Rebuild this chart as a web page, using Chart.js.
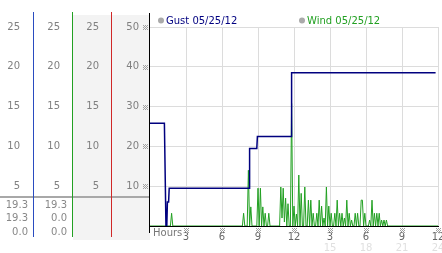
<!DOCTYPE html>
<html>
<head>
<meta charset="utf-8">
<script src="https://cdn.jsdelivr.net/npm/chart.js@4"></script>
<style>
  body { margin: 0; background: #fff; }
  #wrap { width: 442px; height: 253px; }
</style>
</head>
<body>
<div id="wrap"><canvas id="chart" width="442" height="253"></canvas></div>
<script>
// gust (blue scale, 0-25)
const gustHours = [0, 1.2, 1.33, 1.4, 1.45, 1.55, 1.6, 8.25, 8.3, 8.9, 8.95, 11.75, 11.8, 23.8];
const gustValues = [12.9, 12.9, 0, 0, 3.0, 3.0, 4.75, 4.75, 9.75, 9.75, 11.25, 11.25, 19.25, 19.25];

// wind (green scale, 0-25)
const windHours = [
  0, 1.7, 1.8, 1.9, 7.7, 7.8, 7.9, 8.1, 8.2, 8.3, 8.4, 8.5, 8.9, 9.0, 9.1, 9.2, 9.3, 9.4, 9.5, 9.6,
  9.7, 9.8, 9.9, 10.0, 10.8, 10.9, 11.0, 11.1, 11.2, 11.3, 11.4, 11.5, 11.6, 11.7, 11.8, 11.9, 12.0, 12.1, 12.2, 12.3,
  12.4, 12.5, 12.6, 12.7, 12.8, 12.9, 13.0, 13.1, 13.2, 13.3, 13.4, 13.5, 13.6, 13.7, 13.8, 13.9, 14.0, 14.1, 14.2, 14.3,
  14.4, 14.5, 14.6, 14.7, 14.8, 14.9, 15.0, 15.1, 15.2, 15.3, 15.4, 15.5, 15.6, 15.7, 15.8, 15.9, 16.0, 16.1, 16.2, 16.3,
  16.4, 16.5, 16.6, 16.7, 16.8, 16.9, 17.0, 17.1, 17.2, 17.3, 17.4, 17.5, 17.6, 17.7, 17.8, 17.9, 18.0, 18.2, 18.3, 18.4,
  18.5, 18.6, 18.7, 18.8, 18.9, 19.0, 19.1, 19.2, 19.3, 19.4, 19.5, 19.6, 19.7, 19.8, 24
];
const windValues = [
  0, 0, 1.6, 0, 0, 1.6, 0, 0, 7.0, 0, 2.4, 0, 0, 4.75, 0, 4.75, 0, 2.4, 0, 1.6,
  0, 0, 1.6, 0, 0, 4.9, 1.0, 4.75, 0.5, 3.5, 0, 2.8, 0, 0, 15.4, 0, 2.5, 0, 1.5, 0,
  6.4, 0, 4.1, 0, 0, 4.9, 0, 0, 3.25, 0, 3.25, 0, 1.6, 0, 0, 1.6, 0, 3.25, 0, 2.5,
  0, 1.0, 0, 4.9, 0, 2.5, 0, 1.6, 0, 0, 1.6, 0, 3.25, 0, 1.6, 0, 1.6, 0, 1.0, 0,
  3.25, 0, 1.6, 0, 0.75, 0, 0, 1.6, 0, 1.6, 0, 0, 3.25, 3.25, 0, 1.6, 0, 0, 0.75, 0,
  3.25, 0, 1.6, 0, 1.6, 0, 1.6, 0, 0.75, 0, 0.75, 0, 0.75, 0, 0
];

const hourTicks = [0, 3, 6, 9, 12, 15, 18, 21, 24];
const hourLabels = ['', '3', '6', '9', '12', '3', '6', '9', '12'];
const dayLabels = ['', '', '', '', '', '15', '18', '21', '24'];
const leftTicks = [0, 5, 10, 15, 20, 25];
const rightTicks = [0, 10, 20, 30, 40, 50];
const legendNames = ['Gust 05/25/12', 'Wind 05/25/12'];
const gustStats = ['19.3', '19.3', '0.0'];
const windStats = ['19.3', '0.0', '0.0'];

const FONT = 'DejaVu Sans';
Chart.defaults.font.family = FONT;
Chart.defaults.font.size = 10;

function setTicks(list) {
  return (scale) => { scale.ticks = list.map((v) => ({ value: v })); };
}

function noPad(scale) {
  scale.paddingLeft = 0;
  scale.paddingRight = 0;
  scale.paddingTop = 0;
  scale.paddingBottom = 0;
}

function leftAxis(weight, width, max, list, pad) {
  return {
    position: 'left',
    weight: weight,
    min: 0,
    max: max,
    afterBuildTicks: setTicks(list),
    afterFit: (s) => { s.width = width; noPad(s); },
    ticks: { callback: (v) => (v === 0 ? '' : String(v)), color: '#808080', padding: pad },
    grid: { drawOnChartArea: false, drawTicks: false },
    border: { display: false },
  };
}

function drawMark(ctx, cx, cy) {
  ctx.fillStyle = '#a0a0a0';
  for (let dx = -2; dx <= 2; dx++) {
    for (let dy = -2; dy <= 2; dy++) {
      if ((dx + dy) % 2 === 0) ctx.fillRect(cx + dx, cy + dy, 1, 1);
    }
  }
}

const panelPlugin = {
  id: 'panel',
  beforeDraw(chart) {
    const { ctx, scales } = chart;
    ctx.save();
    ctx.fillStyle = '#fff';
    ctx.fillRect(0, 0, chart.width, chart.height);
    ctx.fillStyle = '#f3f3f3';
    ctx.fillRect(scales.y3.left, 15, scales.y4.right - scales.y3.left, 225);
    ctx.restore();
  },
  afterDraw(chart) {
    const { ctx, scales, chartArea } = chart;
    ctx.save();

    // table rule
    ctx.fillStyle = '#a8a8a8';
    ctx.fillRect(0, 196, chartArea.left - 1, 2);

    // column rules
    [['y1', '#2a4cc0'], ['y2', '#22a022'], ['y3', '#d02828']].forEach(([id, c]) => {
      ctx.fillStyle = c;
      ctx.fillRect(scales[id].right - 1, 12, 1, 225);
    });
    ctx.fillStyle = '#000';
    ctx.fillRect(chartArea.left - 1, 13, 1, 220);

    // table values
    ctx.font = '10px ' + FONT;
    ctx.fillStyle = '#888';
    ctx.textAlign = 'right';
    ctx.textBaseline = 'middle';
    const rows = [205, 218, 232];
    rows.forEach((y, i) => {
      ctx.fillText(gustStats[i], scales.y1.right - 6, y);
      ctx.fillText(windStats[i], scales.y2.right - 6, y);
    });

    // marks
    rightTicks.slice(1).forEach((v) => drawMark(ctx, chartArea.left - 5, Math.round(scales.y4.getPixelForValue(v))));
    hourTicks.slice(1).forEach((v) => drawMark(ctx, Math.round(scales.x.getPixelForValue(v)), 230));

    // hours label
    ctx.textAlign = 'left';
    ctx.textBaseline = 'alphabetic';
    ctx.fillStyle = '#777';
    ctx.fillText('Hours', chartArea.left + 3, 236);

    // legend
    const legendX = [chartArea.left + 11, chartArea.left + 152];
    const legendColors = ['#000080', '#22a022'];
    legendNames.forEach((name, i) => {
      ctx.fillStyle = '#aaa';
      ctx.beginPath();
      ctx.arc(legendX[i], 20.5, 3, 0, Math.PI * 2);
      ctx.fill();
      ctx.fillStyle = legendColors[i];
      ctx.fillText(name, legendX[i] + 5, 24);
    });
    ctx.restore();
  },
};

const ctx = document.getElementById('chart').getContext('2d');
new Chart(ctx, {
  type: 'line',
  data: {
    datasets: [
      {
        label: legendNames[0],
        data: gustHours.map((h, i) => ({ x: h, y: gustValues[i] })),
        yAxisID: 'y1',
        borderColor: '#00007f',
        borderWidth: 1.5,
        pointRadius: 0,
        tension: 0,
        fill: false,
      },
      {
        label: legendNames[1],
        data: windHours.map((h, i) => ({ x: h, y: windValues[i] })),
        yAxisID: 'y2',
        borderColor: '#22a022',
        borderWidth: 1,
        pointRadius: 0,
        tension: 0,
        fill: false,
      },
    ],
  },
  options: {
    responsive: false,
    animation: false,
    devicePixelRatio: 1,
    layout: { padding: { top: 27, right: 4, left: 0, bottom: 0 } },
    plugins: { legend: { display: false }, tooltip: { enabled: false } },
    scales: {
      x: {
        type: 'linear',
        min: 0,
        max: 24,
        weight: 0,
        afterBuildTicks: setTicks(hourTicks),
        afterFit: (s) => { s.height = 16; noPad(s); },
        ticks: { callback: (v, i) => hourLabels[i], color: '#666', padding: 5, maxRotation: 0, autoSkip: false },
        grid: { color: (c) => (c.tick && c.tick.value === 0 ? 'rgba(0,0,0,0)' : '#dcdcdc'), drawTicks: false },
        border: { color: '#000', width: 1 },
      },
      x2: {
        type: 'linear',
        position: 'bottom',
        min: 0,
        max: 24,
        weight: 1,
        afterBuildTicks: setTicks(hourTicks),
        afterFit: (s) => { s.height = 11; noPad(s); },
        ticks: { callback: (v, i) => dayLabels[i], color: '#e0e0e0', padding: 0, maxRotation: 0, autoSkip: false },
        grid: { drawOnChartArea: false, drawTicks: false },
        border: { display: false },
      },
      y1: leftAxis(3, 34, 25, leftTicks, 14),
      y2: leftAxis(2, 39, 25, leftTicks, 13),
      y3: leftAxis(1, 39, 25, leftTicks, 13),
      y4: {
        position: 'left',
        weight: 0,
        min: 0,
        max: 50,
        afterBuildTicks: setTicks(rightTicks),
        afterFit: (s) => { s.width = 38; noPad(s); },
        ticks: { callback: (v) => (v === 0 ? '' : String(v)), color: '#808080', padding: 11 },
        grid: { color: (c) => (c.tick && c.tick.value === 0 ? 'rgba(0,0,0,0)' : '#dcdcdc'), drawTicks: false },
        border: { display: false },
      },
    },
  },
  plugins: [panelPlugin],
});
</script>
</body>
</html>
